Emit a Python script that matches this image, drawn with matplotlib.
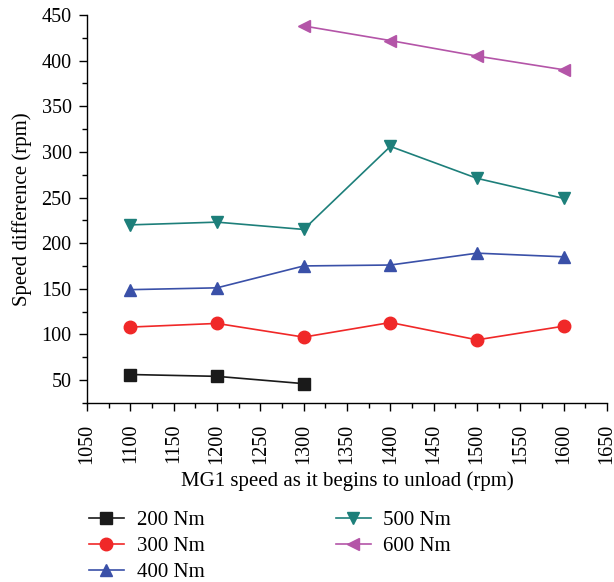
import matplotlib.pyplot as plt
from matplotlib.ticker import MultipleLocator

plt.rcParams['font.family'] = ['Liberation Serif', 'DejaVu Serif']

speeds = [1100, 1200, 1300, 1400, 1500, 1600]
torque_200 = [56, 54, 46]
torque_300 = [108, 112, 97, 113, 94, 109]
torque_400 = [149, 151, 175, 176, 189, 185]
torque_500 = [220, 223, 215, 306, 271, 249]
torque_600 = [438, 422, 405, 390]

fig = plt.figure(figsize=(6.14, 5.82), dpi=100)
ax = fig.add_axes([0.1417, 0.3079, 0.847, 0.6663])

ms = 8
ax.plot(speeds[:3], torque_200, color='#1a1a1a', marker='s', ms=ms, lw=1.2, label='200 Nm')
ax.plot(speeds, torque_300, color='#f02828', marker='o', ms=ms + 1, lw=1.2, label='300 Nm')
ax.plot(speeds, torque_400, color='#3a50a8', marker='^', ms=ms + 1, lw=1.2, label='400 Nm')
ax.plot(speeds, torque_500, color='#1d7f7a', marker='v', ms=ms + 1, lw=1.2, label='500 Nm')
ax.plot(speeds[2:], torque_600, color='#b455a8', marker='<', ms=ms + 1, lw=1.2, label='600 Nm')

ax.set_xlim(1050, 1650)
ax.set_ylim(25, 450)
ax.xaxis.set_major_locator(MultipleLocator(50))
ax.xaxis.set_minor_locator(MultipleLocator(25))
ax.yaxis.set_major_locator(MultipleLocator(50))
ax.yaxis.set_minor_locator(MultipleLocator(25))
ax.set_yticks([50, 100, 150, 200, 250, 300, 350, 400, 450])
ax.tick_params(which='major', direction='out', length=6, width=1, labelsize=14.5)
ax.tick_params(axis='x', which='major', pad=9)
ax.tick_params(axis='y', which='major', pad=5)
ax.tick_params(which='minor', direction='out', length=3.5, width=1)
plt.setp(ax.get_xticklabels(), rotation=90)

for side in ('top', 'right'):
    ax.spines[side].set_visible(False)
for side in ('left', 'bottom'):
    ax.spines[side].set_linewidth(1)

ax.set_xlabel('MG1 speed as it begins to unload (rpm)', fontsize=15, labelpad=5)
ax.set_ylabel('Speed difference (rpm)', fontsize=15, labelpad=7)

ax.legend(loc='upper left', bbox_to_anchor=(-0.033, -0.23), ncol=2, frameon=False,
          fontsize=15, handlelength=1.7, columnspacing=6.3, labelspacing=0.3,
          handletextpad=0.6)

fig.savefig('out.png', dpi=100)
